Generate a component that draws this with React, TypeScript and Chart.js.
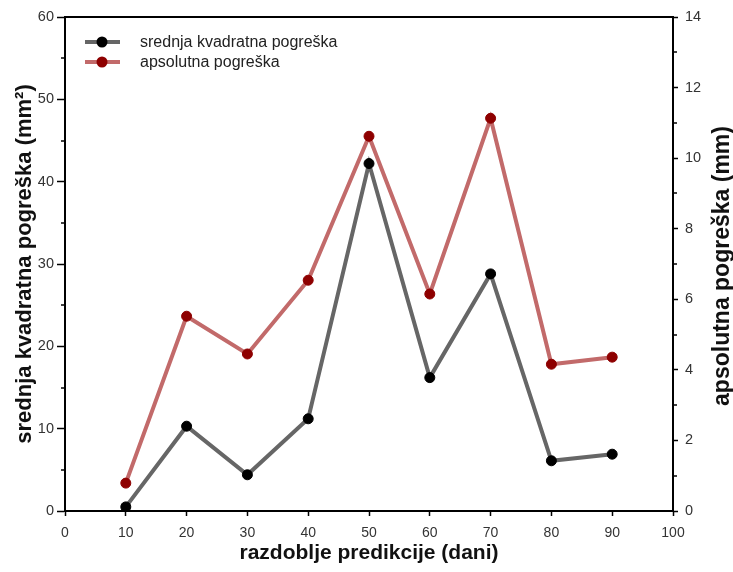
import React, { useEffect, useRef } from "react";
import { Chart, registerables } from "chart.js";

Chart.register(...registerables);

const days = [10, 20, 30, 40, 50, 60, 70, 80, 90];
const mseValues = [0.5, 10.3, 4.4, 11.2, 42.2, 16.2, 28.8, 6.1, 6.9];
const maeValues = [0.79, 5.52, 4.45, 6.54, 10.62, 6.15, 11.13, 4.16, 4.36];
const leftMinorTicks = [5, 15, 25, 35, 45, 55];
const rightMinorTicks = [1, 3, 5, 7, 9, 11, 13];
const mseLabel = "srednja kvadratna pogreška";
const maeLabel = "apsolutna pogreška";
const xTitle = "razdoblje predikcije (dani)";
const yLeftTitle = "srednja kvadratna pogreška (mm²)";
const yRightTitle = "apsolutna pogreška (mm)";

const FONT = "'Liberation Sans', Arial, sans-serif";

const framePlugin = {
  id: "frameAndLegend",
  afterDraw(chart: any) {
    const { ctx, chartArea, scales } = chart;
    ctx.save();
    ctx.strokeStyle = "#000";
    ctx.lineWidth = 2;
    ctx.beginPath();
    ctx.moveTo(chartArea.left - 1, chartArea.top);
    ctx.lineTo(chartArea.right + 1, chartArea.top);
    ctx.stroke();

    // minor ticks
    ctx.lineWidth = 1.5;
    leftMinorTicks.forEach((v) => {
      const y = Math.round(scales.y.getPixelForValue(v));
      ctx.beginPath();
      ctx.moveTo(chartArea.left - 4, y);
      ctx.lineTo(chartArea.left, y);
      ctx.stroke();
    });
    rightMinorTicks.forEach((v) => {
      const y = Math.round(scales.y1.getPixelForValue(v));
      ctx.beginPath();
      ctx.moveTo(chartArea.right, y);
      ctx.lineTo(chartArea.right + 4, y);
      ctx.stroke();
    });

    // right title (reads bottom-to-top)
    ctx.fillStyle = "#111";
    ctx.font = `bold 23px ${FONT}`;
    ctx.textAlign = "center";
    ctx.textBaseline = "middle";
    ctx.translate(723, (chartArea.top + chartArea.bottom) / 2 + 2);
    ctx.rotate(-Math.PI / 2);
    ctx.fillText(yRightTitle, 0, 0);
    ctx.restore();

    // legend
    ctx.save();
    const items = chart.data.datasets;
    items.forEach((ds: any, i: number) => {
      const y = 42 + i * 20;
      ctx.strokeStyle = ds.borderColor;
      ctx.lineWidth = 4;
      ctx.beginPath();
      ctx.moveTo(85, y);
      ctx.lineTo(120, y);
      ctx.stroke();
      ctx.fillStyle = ds.pointBackgroundColor;
      ctx.beginPath();
      ctx.arc(102, y, 5.5, 0, Math.PI * 2);
      ctx.fill();
      ctx.fillStyle = "#222";
      ctx.font = `16px ${FONT}`;
      ctx.textAlign = "left";
      ctx.textBaseline = "middle";
      ctx.fillText(ds.label, 140, y + 1);
    });
    ctx.restore();
  },
};

export default function App() {
  const ref = useRef<HTMLCanvasElement>(null);
  useEffect(() => {
    if (!ref.current) return;
    const chart = new Chart(ref.current, {
      type: "line",
      data: {
        datasets: [
          {
            label: mseLabel,
            data: days.map((d, i) => ({ x: d, y: mseValues[i] })),
            yAxisID: "y",
            borderColor: "#666666",
            borderWidth: 4,
            pointBackgroundColor: "#000000",
            pointBorderColor: "#000000",
            pointRadius: 5,
            pointBorderWidth: 1,
            tension: 0,
          },
          {
            label: maeLabel,
            data: days.map((d, i) => ({ x: d, y: maeValues[i] })),
            yAxisID: "y1",
            borderColor: "#c26a6a",
            borderWidth: 4,
            pointBackgroundColor: "#8e0000",
            pointBorderColor: "#8e0000",
            pointRadius: 5,
            pointBorderWidth: 1,
            tension: 0,
          },
        ],
      },
      options: {
        animation: false,
        responsive: true,
        maintainAspectRatio: false,
        layout: { padding: { top: 17, left: 0, right: 0, bottom: 0 } },
        plugins: { legend: { display: false }, tooltip: { enabled: false } },
        scales: {
          x: {
            type: "linear",
            min: 0,
            max: 100,
            ticks: { stepSize: 10, color: "#333", font: { family: FONT, size: 14 }, padding: 9 },
            grid: { drawOnChartArea: false, drawTicks: true, tickLength: 5, tickColor: "#000", tickWidth: 1.5 },
            border: { color: "#000", width: 2 },
            title: {
              display: true,
              text: xTitle,
              color: "#111",
              font: { family: FONT, size: 21, weight: "bold" },
              padding: { top: 0, bottom: 6 },
            },
            afterFit(scale: any) {
              scale.height = 61;
            },
          },
          y: {
            position: "left",
            min: 0,
            max: 60,
            ticks: {
              stepSize: 10,
              color: "#333",
              font: { family: FONT, size: 14.5 },
              padding: 3,
            },
            grid: { drawOnChartArea: false, drawTicks: true, tickLength: 8, tickColor: "#000", tickWidth: 1.5 },
            border: { color: "#000", width: 2 },
            title: {
              display: true,
              text: yLeftTitle,
              color: "#111",
              font: { family: FONT, size: 22, weight: "bold" },
              padding: { top: 12, bottom: 0 },
            },
            afterFit(scale: any) {
              scale.width = 65;
            },
          },
          y1: {
            position: "right",
            min: 0,
            max: 14,
            ticks: {
              stepSize: 2,
              color: "#333",
              font: { family: FONT, size: 14.5 },
              padding: 7,
            },
            grid: { drawOnChartArea: false, drawTicks: true, tickLength: 5, tickColor: "#000", tickWidth: 1.5 },
            border: { color: "#000", width: 2 },
            afterFit(scale: any) {
              scale.width = 60;
            },
          },
        },
      },
      plugins: [framePlugin],
    } as any);
    return () => chart.destroy();
  }, []);
  return (
    <div style={{ position: "fixed", left: 0, top: 0, width: 733, height: 572, background: "#fff" }}>
      <canvas ref={ref} />
    </div>
  );
}
